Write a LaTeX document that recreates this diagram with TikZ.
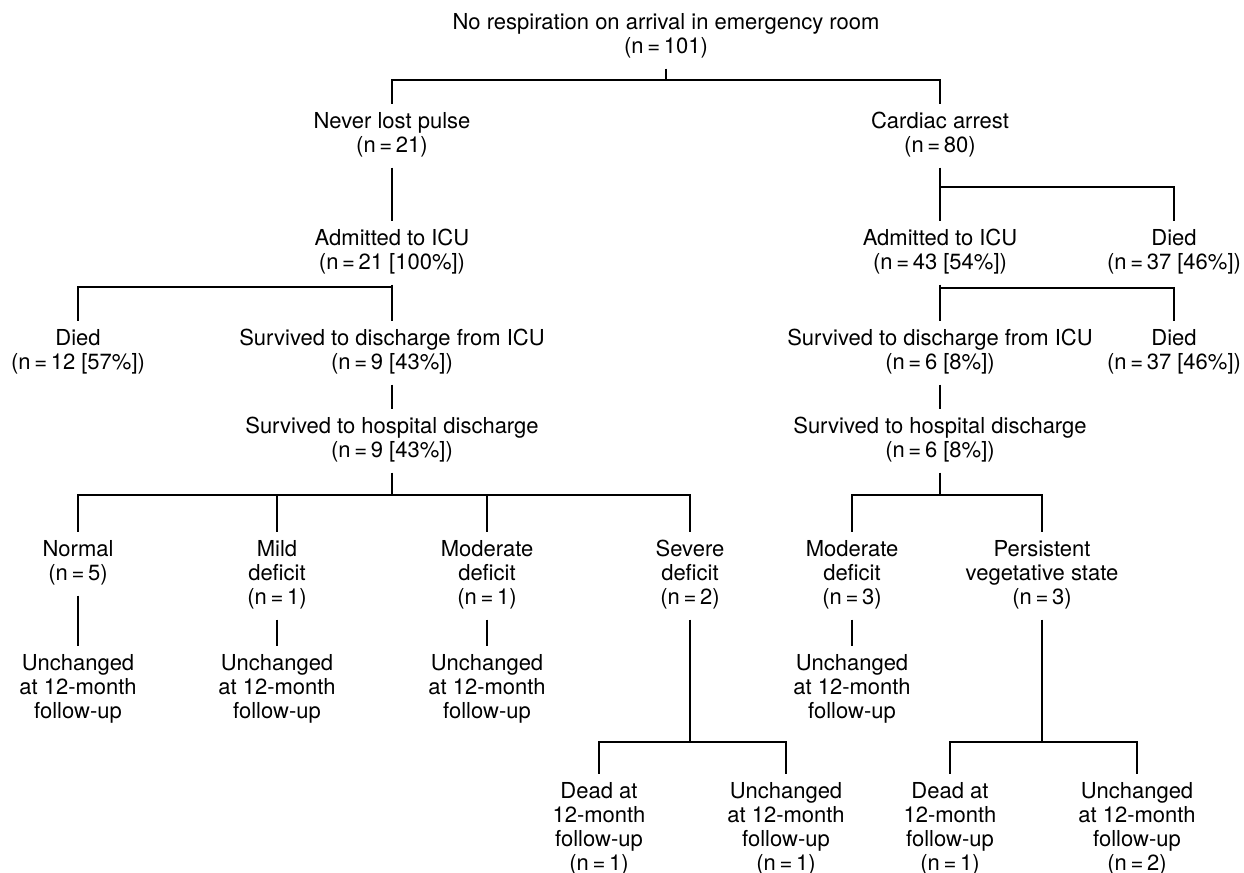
\documentclass[tikz,border=0pt]{standalone}
\usepackage{fontspec}
\setmainfont{TeX Gyre Heros}
\usepackage{tikz}
\usetikzlibrary{positioning}

\begin{document}
\begin{tikzpicture}[x=0.5pt, y=-0.5pt,
  every node/.style={font=\fontsize{11}{12}\selectfont, align=center, inner xsep=0pt, inner ysep=3.5pt,
    execute at begin node=\strut, execute at end node=\strut},
  every path/.style={line width=0.9pt}]
\useasboundingbox (0,0) rectangle (1244,873);
% top of the tree
\node (top) at (666,37) {No respiration on arrival in emergency room\\(n\,=\,101)};
\node (nolost) at (392,136) {Never lost pulse\\(n\,=\,21)};
\node (arrest) at (940,136) {Cardiac arrest\\(n\,=\,80)};
% left branch
\node (admleft) at (392,253) {Admitted to ICU\\(n\,=\,21 [100\%])};
\node (diedleft) at (78,353) {Died\\(n\,=\,12 [57\%])};
\node (iculeft) at (392,353) {Survived to discharge from ICU\\(n\,=\,9 [43\%])};
\node (hospleft) at (392,441) {Survived to hospital discharge\\(n\,=\,9 [43\%])};
\node (normal) at (78,564) {Normal\\(n\,=\,5)};
\node (mild) at (277,576) {Mild\\deficit\\(n\,=\,1)};
\node (modleft) at (487,576) {Moderate\\deficit\\(n\,=\,1)};
\node (severe) at (690,576) {Severe\\deficit\\(n\,=\,2)};
\node (unnormal) at (78,690) {Unchanged\\at 12-month\\follow-up};
\node (unmild) at (277,690) {Unchanged\\at 12-month\\follow-up};
\node (unmodleft) at (487,690) {Unchanged\\at 12-month\\follow-up};
\node (deadsev) at (599,830) {Dead at\\12-month\\follow-up\\(n\,=\,1)};
\node (unsev) at (786,830) {Unchanged\\at 12-month\\follow-up\\(n\,=\,1)};
% right branch
\node (admright) at (940,253) {Admitted to ICU\\(n\,=\,43 [54\%])};
\node (diedarrest) at (1174,253) {Died\\(n\,=\,37 [46\%])};
\node (icuright) at (940,353) {Survived to discharge from ICU\\(n\,=\,6 [8\%])};
\node (diedicu) at (1174,353) {Died\\(n\,=\,37 [46\%])};
\node (hospright) at (940,441) {Survived to hospital discharge\\(n\,=\,6 [8\%])};
\node (modright) at (852,576) {Moderate\\deficit\\(n\,=\,3)};
\node (pvs) at (1042,576) {Persistent\\vegetative state\\(n\,=\,3)};
\node (unmodright) at (852,690) {Unchanged\\at 12-month\\follow-up};
\node (deadpvs) at (950,830) {Dead at\\12-month\\follow-up\\(n\,=\,1)};
\node (unpvs) at (1137,830) {Unchanged\\at 12-month\\follow-up\\(n\,=\,2)};
% connectors
\draw (top.south) -- (top.south |- 0,80) -| (nolost.north);
\draw (top.south |- 0,80) -| (arrest.north);
\draw (nolost.south) -- (admleft.north);
\draw (admleft.south) -- (iculeft.north);
\draw (admleft.south |- 0,287) -| (diedleft.north);
\draw (iculeft.south) -- (hospleft.north);
\draw (hospleft.south) -- (hospleft.south |- 0,495) -| (normal.north);
\draw (hospleft.south |- 0,495) -| (mild.north);
\draw (hospleft.south |- 0,495) -| (modleft.north);
\draw (hospleft.south |- 0,495) -| (severe.north);
\draw (normal.south) -- (unnormal.north);
\draw (mild.south) -- (unmild.north);
\draw (modleft.south) -- (unmodleft.north);
\draw (severe.south) -- (severe.south |- 0,742) -| (deadsev.north);
\draw (severe.south |- 0,742) -| (unsev.north);
\draw (arrest.south) -- (admright.north);
\draw (arrest.south |- 0,187) -| (diedarrest.north);
\draw (admright.south) -- (icuright.north);
\draw (admright.south |- 0,288) -| (diedicu.north);
\draw (icuright.south) -- (hospright.north);
\draw (hospright.south) -- (hospright.south |- 0,495) -| (modright.north);
\draw (hospright.south |- 0,495) -| (pvs.north);
\draw (modright.south) -- (unmodright.north);
\draw (pvs.south) -- (pvs.south |- 0,742) -| (deadpvs.north);
\draw (pvs.south |- 0,742) -| (unpvs.north);
\end{tikzpicture}
\end{document}
